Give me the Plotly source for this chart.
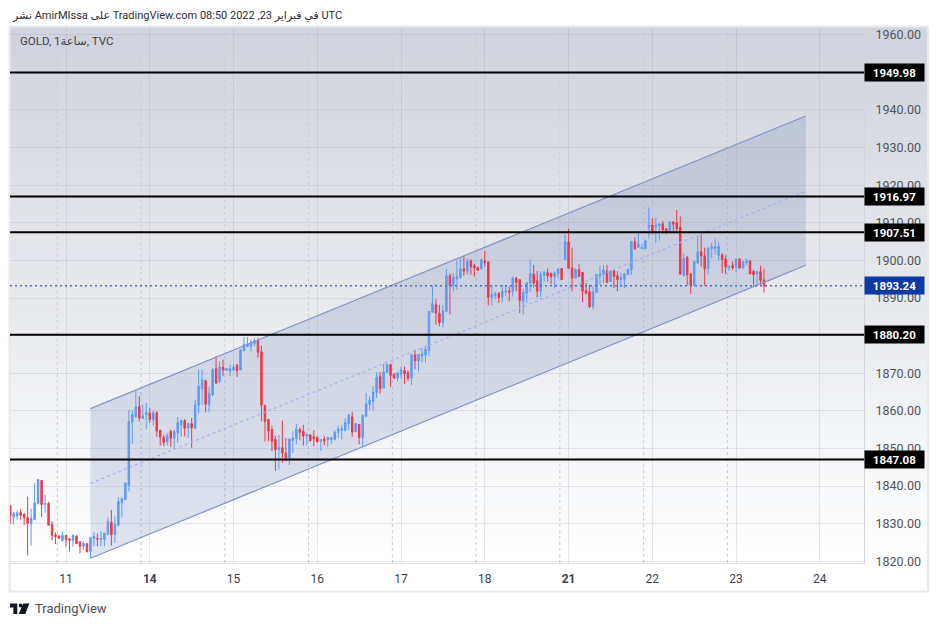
import plotly.graph_objects as go

# hourly bars, counted from 00:00 on the 11th (gaps are already closed like on the chart)
bar_index = list(range(-16, 201))

opens = [
    1834.8, 1831.8, 1832.0, 1833.0, 1832.5, 1831.6, 1830.1, 1831.1, 1835.4, 1841.5,
    1835.1, 1835.4, 1829.8, 1827.0, 1826.7, 1825.5, 1826.9, 1826.0, 1825.5, 1826.7,
    1825.2, 1824.0, 1824.7, 1822.6, 1826.0, 1826.1, 1825.8, 1825.8, 1827.1, 1830.4,
    1827.1, 1829.6, 1835.6, 1836.4, 1840.2, 1857.0, 1858.5, 1861.1, 1858.0, 1859.0,
    1859.4, 1857.7, 1859.5, 1854.8, 1853.0, 1851.8, 1854.5, 1852.7, 1854.2, 1856.3,
    1857.4, 1855.4, 1856.6, 1855.3, 1861.5, 1865.9, 1868.0, 1861.6, 1864.3, 1871.2,
    1867.8, 1871.6, 1870.8, 1870.5, 1870.8, 1872.1, 1870.9, 1876.0, 1877.1, 1877.2,
    1877.9, 1878.5, 1875.7, 1861.5, 1857.7, 1855.0, 1852.4, 1849.7, 1850.2, 1848.8,
    1847.5, 1852.1, 1852.6, 1855.0, 1854.5, 1853.3, 1853.6, 1853.2, 1852.9, 1851.9,
    1852.5, 1852.3, 1852.4, 1852.4, 1854.3, 1854.8, 1854.7, 1856.6, 1858.4, 1854.5,
    1856.4, 1852.9, 1858.6, 1861.7, 1862.5, 1864.9, 1869.1, 1866.1, 1870.2, 1872.3,
    1869.7, 1868.7, 1869.7, 1870.7, 1870.2, 1868.7, 1874.9, 1873.3, 1874.5, 1874.8,
    1876.1, 1886.2, 1888.2, 1885.9, 1883.5, 1886.4, 1895.9, 1893.3, 1895.1, 1895.5,
    1897.8, 1897.0, 1899.9, 1898.6, 1898.1, 1897.8, 1899.9, 1899.6, 1890.2, 1890.7,
    1891.2, 1890.3, 1891.6, 1891.9, 1891.8, 1895.3, 1894.9, 1889.1, 1891.3, 1893.9,
    1896.4, 1894.6, 1891.8, 1896.0, 1896.7, 1896.5, 1895.6, 1896.6, 1897.8, 1900.2,
    1904.9, 1898.0, 1895.3, 1897.5, 1896.8, 1892.0, 1891.7, 1887.7, 1891.5, 1895.9,
    1896.2, 1897.2, 1894.4, 1897.3, 1895.9, 1894.9, 1895.0, 1896.2, 1897.5, 1904.9,
    1903.5, 1903.1, 1903.1, 1908.8, 1909.4, 1908.8, 1909.2, 1909.7, 1908.4, 1907.5,
    1910.2, 1910.0, 1908.8, 1896.0, 1900.8, 1896.4, 1893.3, 1899.3, 1902.3, 1901.2,
    1897.8, 1903.1, 1903.1, 1901.3, 1901.5, 1900.4, 1898.1, 1898.7, 1898.1, 1900.4,
    1898.0, 1899.3, 1899.9, 1897.1, 1896.4, 1897.0, 1894.8,
]
highs = [
    1834.8, 1833.1, 1833.5, 1833.8, 1832.9, 1837.2, 1834.0, 1840.7, 1841.9, 1841.6,
    1837.7, 1835.8, 1830.7, 1827.7, 1826.9, 1827.9, 1827.0, 1826.0, 1827.1, 1826.9,
    1825.3, 1825.3, 1824.7, 1826.3, 1827.7, 1827.4, 1828.0, 1827.6, 1831.6, 1833.6,
    1832.0, 1837.1, 1836.9, 1841.0, 1860.3, 1860.1, 1865.6, 1863.9, 1861.6, 1862.1,
    1860.8, 1860.1, 1859.9, 1855.0, 1853.7, 1854.1, 1855.0, 1855.0, 1858.4, 1857.7,
    1857.8, 1856.8, 1858.1, 1863.0, 1870.9, 1870.9, 1868.3, 1866.5, 1871.4, 1874.5,
    1873.1, 1873.6, 1871.4, 1872.3, 1872.5, 1872.5, 1876.4, 1879.6, 1879.6, 1878.9,
    1879.4, 1879.4, 1877.3, 1861.5, 1857.9, 1856.1, 1853.4, 1853.6, 1857.4, 1852.8,
    1852.5, 1854.6, 1856.5, 1855.6, 1856.3, 1854.0, 1853.8, 1854.8, 1853.3, 1852.5,
    1853.3, 1853.1, 1853.0, 1854.8, 1856.1, 1856.3, 1858.1, 1859.3, 1859.7, 1856.8,
    1856.5, 1859.0, 1864.8, 1863.9, 1866.5, 1870.3, 1870.3, 1872.5, 1872.5, 1872.5,
    1870.1, 1870.4, 1871.7, 1871.8, 1870.8, 1875.1, 1876.2, 1875.2, 1876.7, 1877.3,
    1886.5, 1893.3, 1889.7, 1888.2, 1888.2, 1897.7, 1896.6, 1896.6, 1900.0, 1900.6,
    1901.2, 1900.6, 1900.3, 1899.1, 1898.4, 1900.4, 1902.5, 1899.6, 1893.5, 1891.7,
    1891.6, 1893.5, 1893.3, 1893.1, 1895.7, 1895.6, 1894.9, 1892.5, 1894.2, 1900.2,
    1898.8, 1897.2, 1897.1, 1897.1, 1897.8, 1896.8, 1897.1, 1897.8, 1897.9, 1906.8,
    1908.4, 1903.4, 1897.9, 1899.0, 1896.9, 1894.0, 1893.5, 1893.1, 1896.2, 1898.6,
    1898.7, 1898.8, 1897.5, 1897.5, 1897.1, 1896.6, 1896.6, 1897.8, 1905.2, 1906.1,
    1907.5, 1904.3, 1905.5, 1914.1, 1911.2, 1911.4, 1909.9, 1910.5, 1908.4, 1910.5,
    1910.5, 1913.4, 1911.7, 1901.8, 1901.2, 1896.6, 1899.9, 1906.4, 1907.4, 1903.4,
    1903.4, 1904.6, 1905.7, 1904.8, 1901.9, 1901.5, 1898.7, 1899.7, 1900.6, 1900.6,
    1900.0, 1900.4, 1899.9, 1897.5, 1897.3, 1898.6, 1897.8,
]
lows = [
    1829.8, 1829.8, 1831.1, 1831.1, 1829.6, 1821.6, 1824.2, 1831.1, 1835.1, 1831.7,
    1832.9, 1829.6, 1825.6, 1824.6, 1826.0, 1825.3, 1823.9, 1822.6, 1823.9, 1824.6,
    1822.1, 1823.1, 1822.3, 1820.8, 1824.0, 1824.0, 1824.0, 1824.0, 1827.1, 1824.2,
    1824.9, 1829.3, 1831.7, 1836.2, 1838.6, 1851.3, 1858.1, 1857.2, 1857.8, 1855.2,
    1856.8, 1856.1, 1853.1, 1850.8, 1850.6, 1850.8, 1850.4, 1849.7, 1851.5, 1853.2,
    1853.2, 1852.8, 1850.1, 1855.2, 1859.3, 1861.4, 1859.6, 1859.6, 1863.9, 1867.2,
    1867.4, 1869.2, 1870.6, 1869.2, 1870.8, 1869.0, 1870.8, 1875.8, 1877.0, 1875.8,
    1877.2, 1874.1, 1857.2, 1851.9, 1851.9, 1849.3, 1844.0, 1844.4, 1846.2, 1846.6,
    1845.6, 1848.8, 1851.1, 1852.2, 1850.8, 1850.8, 1851.9, 1850.6, 1851.6, 1849.4,
    1850.8, 1850.4, 1851.1, 1852.2, 1852.8, 1852.4, 1854.6, 1855.0, 1853.1, 1854.3,
    1851.1, 1850.6, 1858.3, 1860.3, 1860.1, 1863.4, 1864.6, 1866.1, 1870.1, 1866.4,
    1868.5, 1867.9, 1868.5, 1867.2, 1867.9, 1866.8, 1871.0, 1870.5, 1872.9, 1872.9,
    1874.5, 1886.2, 1882.9, 1882.5, 1882.2, 1886.4, 1885.6, 1891.8, 1892.2, 1895.0,
    1895.9, 1896.2, 1896.2, 1895.7, 1897.2, 1897.5, 1898.4, 1888.0, 1888.0, 1889.7,
    1888.7, 1888.9, 1890.6, 1889.1, 1890.4, 1891.8, 1886.0, 1885.6, 1888.7, 1891.6,
    1892.8, 1890.2, 1890.2, 1894.4, 1894.4, 1893.7, 1892.6, 1895.1, 1894.8, 1900.0,
    1897.8, 1891.8, 1895.3, 1895.6, 1888.9, 1890.9, 1887.3, 1886.9, 1891.3, 1893.5,
    1894.0, 1894.0, 1894.2, 1892.6, 1891.8, 1893.1, 1892.6, 1896.2, 1896.2, 1902.8,
    1903.3, 1903.0, 1903.0, 1905.9, 1907.0, 1904.6, 1905.2, 1907.2, 1907.0, 1907.2,
    1907.5, 1907.2, 1896.2, 1895.7, 1893.3, 1891.1, 1893.3, 1899.1, 1898.4, 1893.3,
    1896.2, 1900.6, 1901.5, 1899.9, 1896.6, 1896.4, 1897.2, 1897.5, 1896.9, 1897.8,
    1897.8, 1898.8, 1896.4, 1893.3, 1893.1, 1893.1, 1891.5,
]
closes = [
    1832.0, 1832.7, 1832.9, 1832.2, 1831.6, 1830.1, 1831.4, 1835.6, 1841.7, 1835.1,
    1835.4, 1829.6, 1826.9, 1826.5, 1826.2, 1826.9, 1825.8, 1825.6, 1826.9, 1824.7,
    1824.0, 1824.8, 1822.6, 1826.3, 1826.6, 1825.9, 1826.1, 1827.5, 1830.6, 1827.1,
    1829.8, 1835.9, 1836.6, 1840.8, 1857.1, 1859.0, 1861.1, 1858.1, 1858.7, 1859.5,
    1857.7, 1859.5, 1854.6, 1853.0, 1851.6, 1853.4, 1852.7, 1854.5, 1856.9, 1857.4,
    1855.4, 1856.6, 1855.5, 1861.6, 1866.5, 1868.3, 1861.8, 1864.7, 1870.9, 1867.4,
    1871.6, 1870.9, 1871.2, 1871.2, 1871.6, 1870.7, 1876.2, 1877.6, 1877.8, 1878.2,
    1878.7, 1875.6, 1861.5, 1857.2, 1854.6, 1851.9, 1849.7, 1850.2, 1848.8, 1847.5,
    1852.5, 1852.8, 1855.2, 1854.3, 1853.3, 1853.7, 1852.1, 1852.6, 1851.8, 1852.4,
    1852.0, 1852.9, 1852.9, 1854.3, 1855.2, 1855.3, 1856.9, 1858.8, 1854.4, 1856.6,
    1852.9, 1858.8, 1861.9, 1862.8, 1865.0, 1869.0, 1865.9, 1870.4, 1872.3, 1869.4,
    1868.7, 1870.1, 1870.9, 1869.9, 1868.7, 1874.9, 1873.3, 1875.0, 1875.1, 1876.3,
    1886.4, 1888.5, 1886.0, 1883.5, 1886.6, 1895.9, 1893.3, 1895.5, 1895.7, 1897.8,
    1897.1, 1899.8, 1898.3, 1898.0, 1897.4, 1900.2, 1899.4, 1890.2, 1890.9, 1891.1,
    1890.1, 1891.8, 1891.9, 1891.5, 1895.3, 1894.2, 1889.3, 1891.5, 1894.0, 1896.4,
    1894.0, 1891.8, 1896.2, 1896.9, 1895.9, 1895.7, 1896.6, 1897.7, 1894.9, 1904.9,
    1897.9, 1895.3, 1897.6, 1895.7, 1891.8, 1891.3, 1887.7, 1891.6, 1896.2, 1896.4,
    1897.5, 1894.2, 1897.2, 1895.7, 1894.9, 1895.5, 1896.4, 1897.6, 1905.0, 1903.1,
    1904.4, 1903.4, 1905.2, 1909.4, 1907.2, 1909.4, 1909.7, 1908.1, 1907.5, 1910.2,
    1909.6, 1908.4, 1896.4, 1900.6, 1896.2, 1893.3, 1899.7, 1902.3, 1901.2, 1897.8,
    1903.3, 1903.6, 1903.6, 1903.7, 1900.2, 1898.3, 1898.4, 1898.0, 1900.4, 1898.0,
    1899.5, 1899.9, 1896.4, 1896.2, 1897.1, 1894.7, 1893.24,
]

day_ticks = [0, 24, 48, 72, 96, 120, 144, 168, 192, 216]
day_labels = ["11", "<b>14</b>", "15", "16", "17", "18", "<b>21</b>", "22", "23", "24"]
session_breaks = [-2.5, 21.5, 45.5, 69.5, 93.5, 117.5, 141.5, 165.5, 189.5]

levels = [1949.98, 1916.97, 1907.51, 1880.20, 1847.08]
last_price = 1893.24

channel_x = [7, 212]
channel_top = [1860.6, 1938.4]
channel_mid = [1840.7, 1918.4]
channel_bottom = [1820.8, 1898.7]

FONT = "Roboto, 'DejaVu Sans', sans-serif"
BLUE = "#5B9CF6"
RED = "#F23645"
CHANNEL = "#8293CB"
WIDTH, HEIGHT = 938, 627
LEFT, RIGHT, TOP, BOTTOM = 10, 864, 27, 563.5


def px(x):
    return (x - LEFT) / (RIGHT - LEFT)


def py(y):
    return (BOTTOM - y) / (BOTTOM - TOP)


fig = go.Figure()
fig.add_trace(go.Candlestick(
    x=bar_index, open=opens, high=highs, low=lows, close=closes,
    increasing=dict(line=dict(color=BLUE, width=1), fillcolor=BLUE),
    decreasing=dict(line=dict(color=RED, width=1), fillcolor=RED),
    whiskerwidth=0, hoverinfo="skip", showlegend=False,
))
fig.add_trace(go.Scatter(x=channel_x, y=channel_top, mode="lines",
                         line=dict(color=CHANNEL, width=1.2), hoverinfo="skip", showlegend=False))
fig.add_trace(go.Scatter(x=channel_x, y=channel_bottom, mode="lines",
                         line=dict(color=CHANNEL, width=1.2), hoverinfo="skip", showlegend=False))
fig.add_trace(go.Scatter(x=channel_x, y=channel_mid, mode="lines",
                         line=dict(color="#A0B4F0", width=1.3, dash="dot"), hoverinfo="skip", showlegend=False))

shapes = []

# pane background fades from grey at the top to white, price scale included
steps = 54
for k in range(steps):
    t = k / (steps - 1)
    col = "rgb(%d,%d,%d)" % (209 + 46 * t, 212 + 43 * t, 220 + 35 * t)
    y0 = TOP + (BOTTOM - TOP) * k / steps
    shapes.append(dict(type="rect", xref="paper", yref="paper", layer="below",
                       x0=px(LEFT), x1=px(927), y0=py(y0), y1=py(BOTTOM),
                       fillcolor=col, line=dict(width=0)))

# outer frame
shapes.append(dict(type="rect", xref="paper", yref="paper", layer="below",
                   x0=px(9.5), x1=px(928), y0=py(26.5), y1=py(592),
                   line=dict(color="#E9EAEF", width=2)))

# channel fill stays behind the candles, scatter fill would wash them out
channel_path = "M %s %s L %s %s L %s %s L %s %s Z" % (
    channel_x[0], channel_top[0], channel_x[1], channel_top[1],
    channel_x[1], channel_bottom[1], channel_x[0], channel_bottom[0],
)
shapes.append(dict(type="path", xref="x", yref="y", layer="below", path=channel_path,
                   fillcolor="rgba(70,95,165,0.17)", line=dict(width=0)))

for b in session_breaks:
    shapes.append(dict(type="line", xref="x", yref="paper", x0=b, x1=b, y0=0, y1=1,
                       layer="below", line=dict(color="#CBCDD5", width=1, dash="dot")))

shapes.append(dict(type="line", xref="paper", yref="y", x0=0, x1=1, y0=last_price, y1=last_price,
                   line=dict(color="#4F6BBE", width=1.5, dash="2px,3px")))
for lv in levels:
    shapes.append(dict(type="line", xref="paper", yref="y", x0=0, x1=1, y0=lv, y1=lv,
                       line=dict(color="#000000", width=2)))

# TradingView mark, bottom left
mark = [
    [(10, 604), (17.3, 604), (17.3, 614.5), (13.4, 614.5), (13.4, 608), (10, 608)],
    [(23.3, 604), (29.3, 604), (25.3, 614.5), (18.7, 614.5)],
]
for pts in mark:
    path = "M " + " L ".join("%.5f %.5f" % (px(x), py(y)) for x, y in pts) + " Z"
    shapes.append(dict(type="path", xref="paper", yref="paper", path=path,
                       fillcolor="#131722", line=dict(width=0)))
shapes.append(dict(type="circle", xref="paper", yref="paper", x0=px(18.7), x1=px(22.7),
                   y0=py(608), y1=py(604), fillcolor="#131722", line=dict(width=0)))

annotations = []


def price_tag(value, bg):
    annotations.append(dict(
        xref="paper", yref="y", x=1, y=value, xanchor="left", yanchor="middle",
        text="<b>%.2f</b>" % value, showarrow=False, width=59, height=17, align="center",
        bgcolor=bg, borderpad=0, font=dict(family=FONT, size=11.5, color="#FFFFFF"),
    ))


for lv in levels:
    price_tag(lv, "#000000")
price_tag(last_price, "#0D3AA3")

annotations.append(dict(
    xref="paper", yref="paper", x=px(10), y=py(15), xanchor="left", yanchor="middle",
    text="نشر AmirMIssa على TradingView.com 08:50 2022 ,23 في فبراير UTC", showarrow=False,
    font=dict(family=FONT, size=11, color="#2A2E39"),
))
annotations.append(dict(
    xref="paper", yref="paper", x=px(18), y=py(41), xanchor="left", yanchor="middle",
    text="GOLD, 1ساعة, TVC", showarrow=False,
    font=dict(family=FONT, size=11.5, color="#3C3F4A"),
))
annotations.append(dict(
    xref="paper", yref="paper", x=px(33), y=py(609.5), xanchor="left", yanchor="middle",
    text="TradingView", showarrow=False,
    font=dict(family=FONT, size=13, color="#4A4E59"),
))

fig.update_layout(
    width=WIDTH, height=HEIGHT,
    margin=dict(l=LEFT, r=WIDTH - RIGHT, t=TOP, b=HEIGHT - BOTTOM, pad=0),
    paper_bgcolor="#FFFFFF", plot_bgcolor="rgba(0,0,0,0)",
    boxgap=0.4, showlegend=False, shapes=shapes, annotations=annotations,
    xaxis=dict(
        range=[-16.05, 228.65], rangeslider=dict(visible=False),
        tickmode="array", tickvals=day_ticks, ticktext=day_labels,
        ticks="outside", ticklen=5, tickcolor="rgba(0,0,0,0)",
        showgrid=True, gridcolor="rgba(150,155,175,0.22)", gridwidth=1, zeroline=False,
        showline=True, linecolor="#DDDFE6", linewidth=1,
        tickfont=dict(family=FONT, size=12, color="#3C3F4A"),
    ),
    yaxis=dict(
        range=[1819.55, 1962.05], side="right", dtick=10, tick0=1820, tickformat=".2f",
        ticks="outside", ticklen=8, tickcolor="rgba(0,0,0,0)",
        showgrid=True, gridcolor="rgba(150,155,175,0.22)", gridwidth=1, zeroline=False,
        showline=True, linecolor="#D3D6DE", linewidth=1,
        tickfont=dict(family=FONT, size=12.5, color="#50535E"),
    ),
)

# page body has a default margin that would push the chart off by 8px
fig.write_html("out.html", config={"displayModeBar": False},
               post_script="document.body.style.margin='0';")
